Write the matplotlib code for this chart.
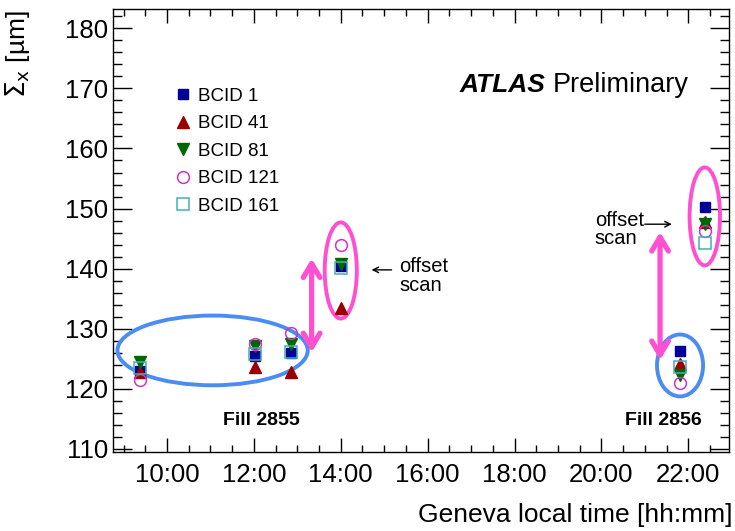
import numpy as np
import matplotlib
matplotlib.use("Agg")
import matplotlib.pyplot as plt
from matplotlib.patches import Ellipse
from matplotlib.ticker import MultipleLocator, FuncFormatter

plt.rcParams['font.family'] = ['Liberation Sans', 'DejaVu Sans']

# measurement times (Geneva local time)
times = ["09:23", "12:02", "12:51", "14:01", "21:49", "22:23"]

# beam width Sigma_x [um] per bunch
bcid_1 = [123.0, 125.4, 126.0, 140.4, 126.3, 150.3]
bcid_41 = [122.8, 123.6, 122.8, 133.5, 124.2, 147.7]
bcid_81 = [124.4, 127.2, 127.4, 140.8, 122.3, 147.4]
bcid_121 = [121.5, 127.4, 129.3, 143.9, 120.9, 146.3]
bcid_161 = [123.4, 125.8, 126.1, 140.1, 123.6, 144.2]

labels = ["BCID 1", "BCID 41", "BCID 81", "BCID 121", "BCID 161"]

pink = "#ff50d2"
blue = "#4a8cf0"


def to_hours(t):
    h, m = t.split(":")
    return int(h) + int(m) / 60.0


def hhmm(v, pos):
    return f"{int(v):02d}:{int(round((v % 1) * 60)):02d}"


x = np.array([to_hours(t) for t in times])

fig = plt.figure(figsize=(7.35, 5.31), dpi=100)
ax = fig.add_axes([0.1533, 0.1488, 0.8387, 0.8342])

styles = [
    dict(marker="s", color="#000099", mfc="#000099", ms=7.5),
    dict(marker="^", color="#990000", mfc="#990000", ms=8),
    dict(marker="v", color="#006600", mfc="#006600", ms=8),
    dict(marker="o", color="#cc33cc", mfc="none", ms=8.5, mew=1.1),
    dict(marker="s", color="#44b0b0", mfc="none", ms=8, mew=1.1),
]
series = [bcid_1, bcid_41, bcid_81, bcid_121, bcid_161]
for vals, lab, st in zip(series, labels, styles):
    ax.plot(x, vals, ls="none", label=lab, zorder=5, **st)

ax.set_xlim(8.75, 22.94)
ax.set_ylim(109.5, 183.2)
ax.xaxis.set_major_locator(MultipleLocator(2))
ax.xaxis.set_minor_locator(MultipleLocator(0.5))
ax.yaxis.set_major_locator(MultipleLocator(10))
ax.yaxis.set_minor_locator(MultipleLocator(2))
ax.xaxis.set_major_formatter(FuncFormatter(hhmm))
ax.tick_params(which="both", direction="in", top=True, right=True, labelsize=18.5, width=1.0)
ax.tick_params(axis="y", which="major", length=13.5, pad=3.5)
ax.tick_params(axis="y", which="minor", length=6.5)
ax.tick_params(axis="x", which="major", length=10, pad=8)
ax.tick_params(axis="x", which="minor", length=5)
for sp in ax.spines.values():
    sp.set_linewidth(1.0)

# highlight ellipses
ax.add_patch(Ellipse((11.05, 126.4), 4.38, 11.6, fill=False, ec=blue, lw=2.8, zorder=4))
ax.add_patch(Ellipse((21.81, 123.9), 1.06, 10.3, fill=False, ec=blue, lw=2.8, zorder=4))
ax.add_patch(Ellipse((14.0, 139.7), 0.74, 16.0, fill=False, ec=pink, lw=2.8, zorder=4))
ax.add_patch(Ellipse((22.38, 148.7), 0.70, 16.3, fill=False, ec=pink, lw=2.8, zorder=4))

# jump arrows
for xa, y0, y1 in [(13.33, 126.1, 141.7), (21.35, 124.8, 146.1)]:
    ax.annotate("", xy=(xa, y1), xytext=(xa, y0),
                arrowprops=dict(arrowstyle="<->,head_width=0.6,head_length=1.0",
                                color=pink, lw=3.8, shrinkA=0, shrinkB=0), zorder=6)

# offset scan notes
ax.annotate("", xy=(14.71, 139.8), xytext=(15.17, 139.8),
            arrowprops=dict(arrowstyle="->", color="black", lw=1.0, shrinkA=0, shrinkB=0))
ax.text(15.35, 138.8, "offset\nscan", fontsize=14.5, ha="left", va="center", linespacing=0.98)
ax.annotate("", xy=(21.62, 147.4), xytext=(21.0, 147.4),
            arrowprops=dict(arrowstyle="->", color="black", lw=1.0, shrinkA=0, shrinkB=0))
ax.text(19.85, 146.5, "offset\nscan", fontsize=14.5, ha="left", va="center", linespacing=0.98)

ax.text(12.18, 114.8, "Fill 2855", fontsize=14, fontweight="bold", ha="center", va="center")
ax.text(21.42, 114.8, "Fill 2856", fontsize=14, fontweight="bold", ha="center", va="center")

ax.text(16.74, 170.5, "ATLAS", fontsize=19, fontweight="bold", fontstyle="italic", ha="left", va="center")
ax.text(18.88, 170.5, "Preliminary", fontsize=19.5, ha="left", va="center")

ax.legend(loc="upper left", bbox_to_anchor=(0.0995, 0.822), frameon=False, fontsize=13.5,
          handlelength=1.0, handletextpad=0.3, labelspacing=0.55, borderpad=0, borderaxespad=0,
          numpoints=1)

fig.text(18 / 735, 1 - 10 / 531, r"$\Sigma_{\mathrm{x}}$ [µm]", rotation=90, fontsize=19,
         ha="center", va="top")
fig.text(733 / 735, 1 - 515 / 531, "Geneva local time [hh:mm]", fontsize=19, ha="right", va="center")

fig.savefig("out.png", dpi=100)
